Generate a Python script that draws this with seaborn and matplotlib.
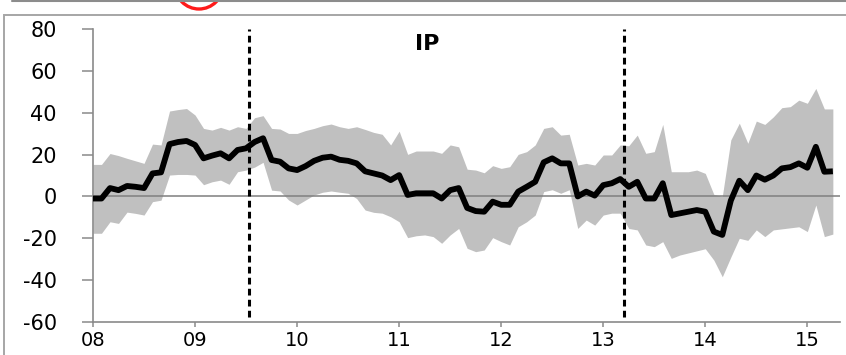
import numpy as np
import pandas as pd
import matplotlib
matplotlib.use("Agg")
import matplotlib.pyplot as plt
import seaborn as sns
from matplotlib.patches import Rectangle, Circle
from matplotlib.lines import Line2D

# ---- data (monthly, Jan 2008 onward) ----
start_year = 2008
ip_mid = [-1, -1, 4, 3, 5, 4.6, 4, 11, 11.5, 25,
          26, 26.5, 24.6, 18.2, 19.5, 20.6, 18.2, 22.2, 23, 26,
          27.8, 17.4, 16.6, 13.4, 12.6, 14.5, 17, 18.5, 19, 17.5,
          17, 15.8, 12, 11, 10, 7.8, 10.2, 0.7, 1.5, 1.5,
          1.5, -1, 3, 4, -5.5, -7, -7.3, -2.5, -4, -4,
          2.3, 4.6, 7, 16.3, 18.2, 15.8, 15.8, 0, 2.3, 0.4,
          5.4, 6.3, 8.3, 4.6, 7, -1, -1, 6.3, -8.9, -8.1,
          -7.3, -6.5, -7.3, -16.8, -18.4, -2, 7.5, 3, 10, 8,
          10, 13.4, 14, 15.8, 13.7, 23.7, 11.8, 12]
ip_upper = [15.3, 15.3, 20.5, 19.5, 18.2, 17, 15.8, 25, 24.6, 40.8,
            41.5, 42, 38.9, 32.5, 31.7, 33, 31.7, 33.3, 32.5, 37.6,
            38.6, 32.5, 32.2, 30.1, 30.1, 31.5, 32.5, 33.8, 34.6, 33.3,
            32.5, 33.3, 32, 30.6, 29.7, 24.6, 31.2, 20.1, 21.7, 21.7,
            21.7, 20.6, 24.6, 23.7, 13, 12.6, 11.3, 14.7, 13.4, 14.2,
            20.1, 21.4, 24.6, 32.5, 33.3, 29.3, 29.7, 15, 15.8, 15,
            19.8, 19.8, 24.6, 24.2, 29.3, 20.6, 21.4, 34.4, 11.8, 11.8,
            11.8, 12.6, 11, 1, 0, 27, 35, 25.4, 36, 34.4,
            38, 42.4, 42.9, 46, 44.5, 51.6, 41.8, 41.8]
ip_lower = [-17.6, -17.6, -12.1, -12.9, -7.5, -8.1, -8.9, -2.5, -1.8, 10.2,
            10.5, 10.5, 10.2, 5.6, 7, 7.8, 5.8, 11.8, 12.6, 14,
            16.3, 3, 2.6, -1.7, -4.1, -1.7, 0.7, 2, 2.6, 2,
            1.5, -1, -6.5, -7.6, -8, -9.7, -12.1, -19.7, -18.8, -18.4,
            -19.2, -22.4, -18.4, -15.3, -24.8, -26.4, -25.6, -19.7, -21.6, -23.2,
            -14.5, -12.1, -8.9, 2.3, 3.2, 1.5, 3.2, -15.3, -11.3, -13.7,
            -8.9, -8, -8, -15.3, -16, -23.2, -24, -21.6, -29.6, -28,
            -27, -26, -25, -30.4, -38.4, -29, -20, -21, -16, -19.2,
            -16, -15.5, -15, -14.5, -16.8, -4.1, -19.2, -18]
event_dates = [2009.53, 2013.2]
year_ticks = [2008, 2009, 2010, 2011, 2012, 2013, 2014, 2015]
year_labels = ["08", "09", "10", "11", "12", "13", "14", "15"]
y_ticks = [-60, -40, -20, 0, 20, 40, 60, 80]
title_text = "IP"

sns.set_theme(style="white")
plt.rcParams["font.family"] = ["DejaVu Sans"]

W, H = 846, 355
fig = plt.figure(figsize=(W / 100, H / 100), dpi=100)
ax = fig.add_axes([93 / W, 33 / H, (840 - 93) / W, (322 - 29) / H])

df = pd.DataFrame({
    "date": start_year + np.arange(len(ip_mid)) / 12.0,
    "mid": ip_mid, "lo": ip_lower, "hi": ip_upper,
})

ax.fill_between(df["date"], df["lo"], df["hi"], color="#C0C0C0", lw=0, zorder=1)
ax.axhline(0, color="#7f7f7f", lw=1.1, zorder=2)
sns.lineplot(data=df, x="date", y="mid", color="black", lw=4.2, ax=ax,
             zorder=4, solid_joinstyle="round", solid_capstyle="butt")
for d in event_dates:
    ax.vlines(d, -57.5, 80, colors="black", lw=2.2,
              linestyles=(0, (2.2, 1.4)), zorder=5)

ax.set_xlim(2008, 2015.32)
ax.set_ylim(-60, 80)
ax.set_xticks(year_ticks)
ax.set_xticklabels(year_labels)
ax.set_yticks(y_ticks)
ax.set_yticklabels([str(v) for v in y_ticks])
ax.set_xlabel("")
ax.set_ylabel("")
for s in ["top", "right"]:
    ax.spines[s].set_visible(False)
for s in ["left", "bottom"]:
    ax.spines[s].set_color("#8a8a8a")
    ax.spines[s].set_linewidth(1.2)
ax.tick_params(axis="y", direction="out", length=8, width=1.1, color="#8a8a8a",
               pad=18, labelsize=15, labelcolor="black", left=True)
ax.tick_params(axis="x", direction="out", length=3.5, width=1.1, color="#8a8a8a",
               pad=3, labelsize=14, labelcolor="black", bottom=True)
ax.text(0.447, 0.95, title_text, transform=ax.transAxes, ha="center", va="center",
        fontsize=16, fontweight="bold", color="black")

# frame decorations (pixel coordinates)
fig.add_artist(Rectangle((4, -20), 900, H - 15 + 20, transform=None, fill=False,
                         edgecolor="#a6a6a6", lw=1.4))
fig.add_artist(Line2D([12, W], [H - 0.8, H - 0.8], transform=None,
                      color="#8c8c8c", lw=1.5))
fig.add_artist(Circle((199, H + 15), 24, transform=None, fill=False,
                      edgecolor="#ff1a1a", lw=2.4))

fig.savefig("out.png", dpi=100)
